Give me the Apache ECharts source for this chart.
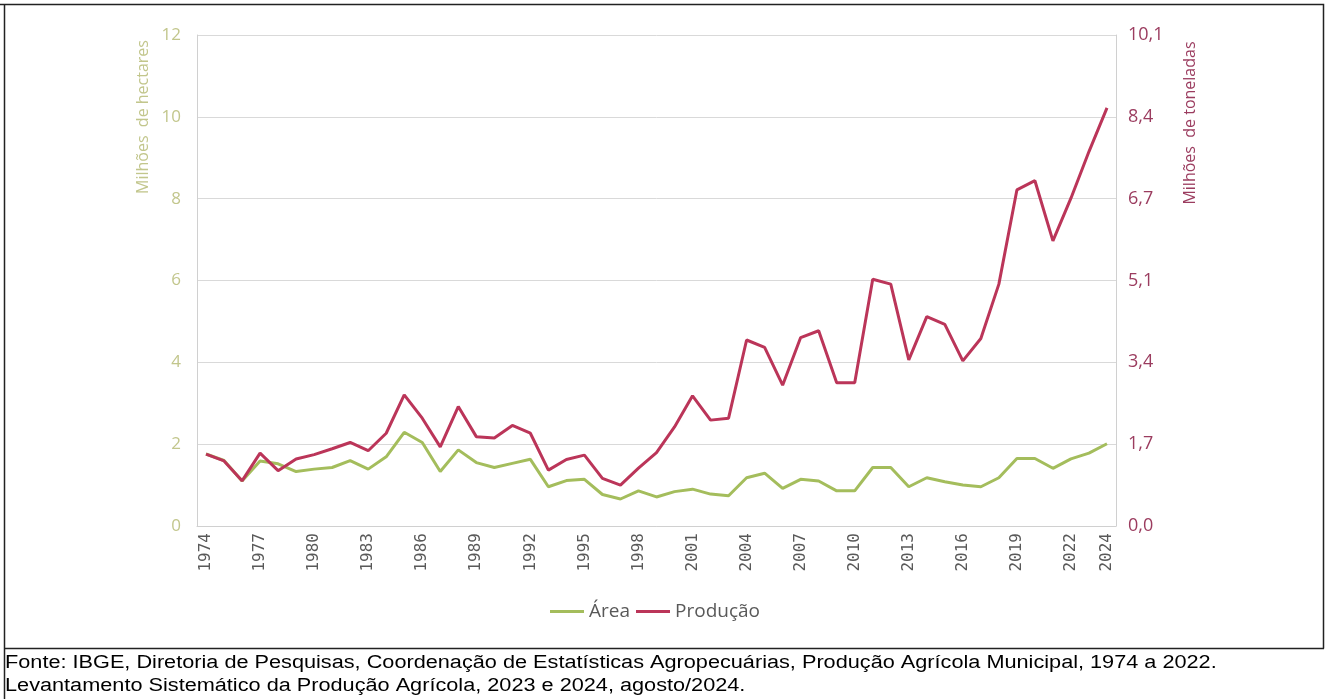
<!DOCTYPE html>
<html>
<head>
<meta charset="utf-8">
<style>
html,body{margin:0;padding:0;background:#fff;}
#chart{width:1328px;height:699px;}
</style>
<script src="https://cdn.jsdelivr.net/npm/echarts@6/dist/echarts.min.js"></script>
</head>
<body>
<div id="chart"></div>
<script>
// ---- data ----
var years = ['1974','1975','1976','1977','1978','1979','1980','1981','1982','1983','1984','1985','1986','1987','1988','1989','1990','1991','1992','1993','1994','1995','1996','1997','1998','1999','2000','2001','2002','2003','2004','2005','2006','2007','2008','2009','2010','2011','2012','2013','2014','2015','2016','2017','2018','2019','2020','2021','2022','2023','2024'];
// Área (milhões de hectares)
var area = [1.76,1.60,1.10,1.59,1.52,1.33,1.39,1.43,1.60,1.39,1.69,2.29,2.04,1.33,1.86,1.55,1.43,1.53,1.63,0.96,1.11,1.14,0.77,0.66,0.86,0.71,0.84,0.90,0.78,0.74,1.18,1.29,0.92,1.14,1.10,0.86,0.86,1.43,1.43,0.96,1.18,1.08,1.00,0.96,1.18,1.65,1.65,1.41,1.64,1.78,2.01];
// Produção (milhões de toneladas)
var producao = [1.48,1.34,0.93,1.50,1.14,1.38,1.47,1.59,1.72,1.55,1.91,2.70,2.22,1.63,2.46,1.84,1.81,2.07,1.91,1.15,1.37,1.46,0.98,0.84,1.19,1.51,2.04,2.68,2.18,2.22,3.83,3.68,2.90,3.88,4.02,2.95,2.95,5.08,4.98,3.42,4.31,4.15,3.40,3.86,4.98,6.92,7.11,5.87,6.75,7.71,8.61];
var leftTicks = {min:0, max:12, interval:2};
var rightTicks = {min:0, max:10.11, interval:1.685};
var seriesNames = ['Área','Produção'];
var leftTitle = 'Milhões  de hectares';
var rightTitle = 'Milhões  de toneladas';
var footer1 = 'Fonte: IBGE, Diretoria de Pesquisas, Coordenação de Estatísticas Agropecuárias, Produção Agrícola Municipal, 1974 a 2022.';
var footer2 = 'Levantamento Sistemático da Produção Agrícola, 2023 e 2024, agosto/2024.';

var GREEN = '#a4bd5c', RED = '#bb3559';
var LEFTC = '#c2c68c', RIGHTC = '#9b3c5f';
var chart = echarts.init(document.getElementById('chart'));
chart.setOption({
  animation:false,
  backgroundColor:'#fff',
  grid:{left:197, right:212, top:35, bottom:173, containLabel:false},
  legend:{
    data:seriesNames, bottom:73, left:545, icon:'rect', itemWidth:34, itemHeight:3, itemGap:6,
    textStyle:{fontFamily:'Open Sans', fontSize:19, color:'#595959'}
  },
  xAxis:{
    type:'category', data:years, boundaryGap:true,
    axisLine:{lineStyle:{color:'#d0d0d0', width:1}},
    axisTick:{show:false},
    axisLabel:{
      rotate:90, margin:7, color:'#595959', fontFamily:'DejaVu Sans Mono', fontSize:16,
      interval:function(i){ return i%3===0 || i===years.length-1; }
    }
  },
  yAxis:[
    {type:'value', min:leftTicks.min, max:leftTicks.max, interval:leftTicks.interval,
     axisLine:{show:true, lineStyle:{color:'#d0d0d0'}}, axisTick:{show:false},
     splitLine:{lineStyle:{color:'#d9d9d9'}},
     axisLabel:{color:LEFTC, fontFamily:'Open Sans', fontSize:17, margin:16}},
    {type:'value', min:rightTicks.min, max:rightTicks.max, interval:rightTicks.interval, position:'right',
     axisLine:{show:true, lineStyle:{color:'#d0d0d0'}}, axisTick:{show:false},
     splitLine:{show:false},
     axisLabel:{color:RIGHTC, fontFamily:'Open Sans', fontSize:18, margin:12,
       formatter:function(v){ return v.toFixed(1).replace('.',','); }}}
  ],
  series:[
    {name:seriesNames[0], type:'line', yAxisIndex:0, data:area, symbol:'none',
     lineStyle:{color:GREEN, width:3}, itemStyle:{color:GREEN}, z:2},
    {name:seriesNames[1], type:'line', yAxisIndex:1, data:producao, symbol:'none',
     lineStyle:{color:RED, width:3}, itemStyle:{color:RED}, z:3}
  ],
  graphic:[
    {type:'polyline', shape:{points:[[0,4.5],[1323.5,4.5],[1323.5,648.5]]}, style:{stroke:'#222', lineWidth:1.5, fill:null}},
    {type:'line', shape:{x1:4.5,y1:4,x2:4.5,y2:699}, style:{stroke:'#222', lineWidth:1.5}},
    {type:'line', shape:{x1:4,y1:648.5,x2:1324,y2:648.5}, style:{stroke:'#222', lineWidth:1.5}},
    {type:'text', x:143, y:117, rotation:Math.PI/2, style:{text:leftTitle, fill:LEFTC, font:'16px "Open Sans"', textAlign:'center', textVerticalAlign:'middle'}},
    {type:'text', x:1190, y:123, rotation:Math.PI/2, style:{text:rightTitle, fill:RIGHTC, font:'16px "Open Sans"', textAlign:'center', textVerticalAlign:'middle'}},
    {type:'text', x:5, y:663, scaleX:1.205, style:{text:footer1, fill:'#000', font:'18px "Liberation Sans"', textAlign:'left', textVerticalAlign:'middle'}},
    {type:'text', x:5, y:686, scaleX:1.205, style:{text:footer2, fill:'#000', font:'18px "Liberation Sans"', textAlign:'left', textVerticalAlign:'middle'}}
  ]
});
</script>
</body>
</html>
